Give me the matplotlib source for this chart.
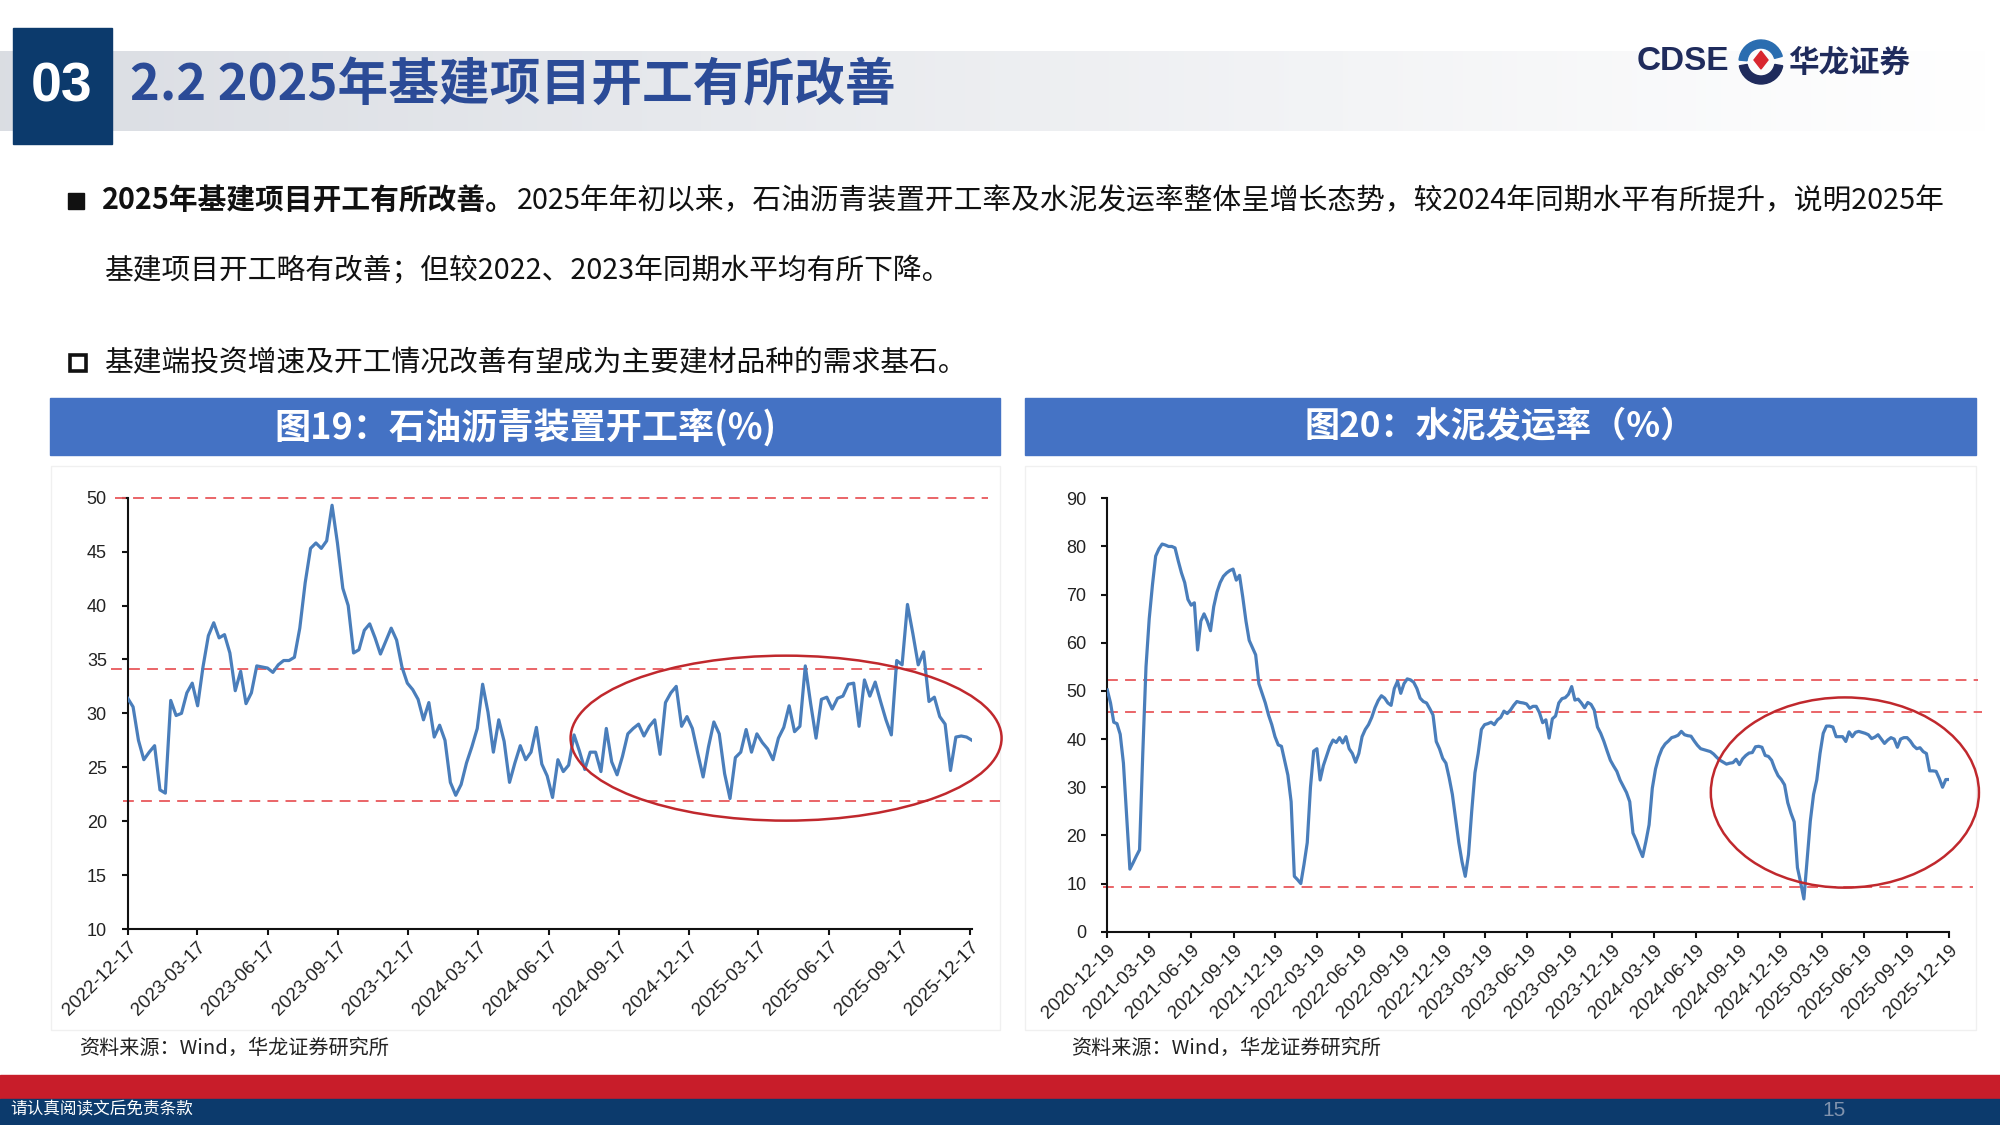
import matplotlib
matplotlib.use('Agg')
import matplotlib.pyplot as plt
import matplotlib.dates as mdates
from matplotlib.patches import Rectangle, Ellipse, Wedge, Polygon
import numpy as np
import pandas as pd

plt.rcParams['font.family'] = ['Noto Sans CJK SC', 'DejaVu Sans']

# ---------------- data ----------------
asphalt_start = '2022-12-17'
asphalt_rate = [
    31.4, 30.6, 27.5, 25.7, 26.4, 27.0, 22.9, 22.6, 31.2, 29.8,
    30.0, 31.9, 32.8, 30.7, 34.3, 37.2, 38.4, 37.0, 37.3, 35.6,
    32.1, 33.9, 30.9, 31.9, 34.4, 34.3, 34.2, 33.8, 34.5, 34.9,
    34.9, 35.2, 37.9, 42.1, 45.3, 45.8, 45.3, 46.0, 49.3, 45.8,
    41.6, 40.0, 35.6, 35.9, 37.7, 38.3, 37.0, 35.5, 36.7, 37.9,
    36.8, 34.3, 32.8, 32.2, 31.3, 29.4, 31.0, 27.8, 28.9, 27.5,
    23.6, 22.4, 23.4, 25.4, 26.9, 28.6, 32.7, 30.1, 26.4, 29.4,
    27.4, 23.6, 25.4, 27.0, 25.7, 26.4, 28.7, 25.3, 24.2, 22.2,
    25.7, 24.6, 25.2, 28.0, 26.5, 24.8, 26.4, 26.4, 24.6, 28.6,
    25.5, 24.3, 26.0, 28.1, 28.6, 29.0, 27.9, 28.8, 29.4, 26.2,
    31.0, 31.9, 32.5, 28.8, 29.7, 28.6, 26.3, 24.1, 26.9, 29.2,
    28.1, 24.4, 22.1, 25.9, 26.4, 28.5, 26.4, 28.1, 27.3, 26.7,
    25.7, 27.7, 28.7, 30.7, 28.3, 28.8, 34.4, 30.9, 27.7, 31.3,
    31.5, 30.4, 31.4, 31.6, 32.7, 32.8, 28.8, 33.1, 31.6, 32.9,
    31.1, 29.4, 28.0, 34.9, 34.5, 40.1, 37.4, 34.5, 35.7, 31.1,
    31.5, 29.7, 29.0, 24.7, 27.8, 27.9, 27.8, 27.5,
]
asphalt_ticks = ['2022-12-17', '2023-03-17', '2023-06-17', '2023-09-17',
                 '2023-12-17', '2024-03-17', '2024-06-17', '2024-09-17',
                 '2024-12-17', '2025-03-17', '2025-06-17', '2025-09-17',
                 '2025-12-17']
asphalt_refs = [50.0, 34.1, 21.9]

cement_start = '2020-12-19'
cement_rate = [
    50.2, 47.5, 43.5, 43.2, 41.0, 35.0, 24.0, 13.0, 14.3, 15.7,
    17.0, 37.0, 55.0, 65.0, 72.0, 78.0, 79.5, 80.5, 80.3, 80.0,
    80.0, 79.7, 77.0, 74.5, 72.5, 69.0, 67.8, 68.3, 58.5, 64.5,
    66.0, 64.5, 62.5, 67.5, 70.5, 72.5, 73.8, 74.5, 75.0, 75.3,
    73.0, 74.0, 69.5, 64.5, 60.5, 59.0, 57.5, 51.5, 49.5, 47.5,
    45.0, 43.0, 40.5, 38.8, 38.5, 35.5, 32.5, 27.0, 11.5, 10.8,
    10.0, 14.0, 18.5, 30.0, 37.5, 38.0, 31.5, 34.5, 36.5, 38.5,
    39.8, 39.3, 40.3, 39.2, 40.5, 38.0, 37.0, 35.2, 37.0, 40.5,
    42.0, 43.0, 44.5, 46.5, 48.0, 49.0, 48.5, 47.5, 47.0, 50.5,
    52.0, 49.5, 51.5, 52.5, 52.3, 51.8, 50.5, 48.5, 47.8, 47.5,
    46.3, 45.0, 39.5, 38.0, 36.0, 35.0, 32.0, 28.5, 23.5, 18.5,
    14.5, 11.5, 16.0, 25.0, 33.0, 37.0, 42.0, 43.0, 43.2, 43.5,
    43.0, 44.0, 44.5, 45.8, 45.3, 46.0, 47.0, 47.8, 47.6, 47.5,
    47.3, 46.4, 46.8, 46.8, 45.5, 43.4, 44.0, 40.2, 44.2, 44.8,
    47.5, 48.4, 48.6, 49.3, 50.9, 48.1, 48.3, 47.5, 46.5, 47.6,
    47.2, 46.0, 42.5, 41.2, 39.5, 37.5, 35.6, 34.4, 33.3, 31.5,
    30.2, 28.9, 27.0, 20.5, 19.0, 17.2, 15.6, 18.7, 22.2, 29.8,
    33.8, 36.3, 38.0, 39.0, 39.6, 40.3, 40.5, 40.8, 41.6, 40.9,
    40.7, 40.6, 39.6, 38.7, 38.0, 37.8, 37.6, 37.4, 36.9, 36.2,
    35.6, 35.2, 34.8, 35.0, 35.1, 35.8, 34.7, 35.9, 36.6, 37.1,
    37.2, 38.4, 38.5, 38.3, 36.6, 36.4, 35.6, 33.8, 32.4, 31.6,
    30.5, 26.8, 24.6, 22.8, 13.3, 10.2, 6.8, 15.0, 23.0, 28.5,
    31.5, 37.0, 41.2, 42.7, 42.7, 42.5, 40.5, 40.5, 40.5, 39.5,
    41.5, 40.5, 41.4, 41.6, 41.4, 41.2, 40.9, 40.1, 40.4, 40.9,
    40.0, 39.1, 39.8, 40.3, 40.0, 38.3, 40.0, 40.3, 40.3, 39.6,
    38.6, 38.0, 38.2, 37.4, 37.0, 33.4, 33.4, 33.3, 31.8, 30.0,
    31.6, 31.6,
]
cement_ticks = ['2020-12-19', '2021-03-19', '2021-06-19', '2021-09-19',
                '2021-12-19', '2022-03-19', '2022-06-19', '2022-09-19',
                '2022-12-19', '2023-03-19', '2023-06-19', '2023-09-19',
                '2023-12-19', '2024-03-19', '2024-06-19', '2024-09-19',
                '2024-12-19', '2025-03-19', '2025-06-19', '2025-09-19',
                '2025-12-19']
cement_refs = [52.3, 45.6, 9.3]

title_text = '2.2 2025年基建项目开工有所改善'
section_no = '03'
bullet1_bold = '2025年基建项目开工有所改善。'
bullet1_rest = '2025年年初以来，石油沥青装置开工率及水泥发运率整体呈增长态势，较2024年同期水平有所提升，说明2025年'
bullet1_line2 = '基建项目开工略有改善；但较2022、2023年同期水平均有所下降。'
bullet2 = '基建端投资增速及开工情况改善有望成为主要建材品种的需求基石。'
chart1_title = '图19：石油沥青装置开工率(%)'
chart2_title = '图20：水泥发运率（%）'
source_text = '资料来源：Wind，华龙证券研究所'
footer_text = '请认真阅读文后免责条款'
page_no = '15'

# ---------------- figure ----------------
W, H = 2000, 1125
fig = plt.figure(figsize=(20, 11.25), dpi=100)
fig.patch.set_facecolor('white')

bg = fig.add_axes([0, 0, 1, 1], zorder=0)
bg.set_xlim(0, W)
bg.set_ylim(H, 0)
bg.axis('off')

NAVY = '#0c3a6c'
RED = '#c81d2a'
TITLE_BLUE = '#2b4b97'
BAR_BLUE = '#4472c4'
LINE_BLUE = '#4a7ebb'
DASH_RED = '#e8585c'
ELL_RED = '#c0282d'
BODY = 20.7

# title gradient band
grad = np.linspace(0, 1, 400)
c0 = np.array([0.855, 0.867, 0.890])
c1 = np.array([1.0, 1.0, 1.0])
img = (c0[None, :] * (1 - grad[:, None]) + c1[None, :] * grad[:, None])[None, :, :]
bg.imshow(img, extent=[0, 1990, 131, 51], aspect='auto', zorder=1)
bg.add_patch(Rectangle((13, 28), 99, 116, color=NAVY, zorder=2))
bg.text(62, 88, section_no, color='white', fontsize=40, fontweight='bold',
        family=['Liberation Sans', 'DejaVu Sans'], ha='center', va='center', zorder=3)
bg.text(130, 86, title_text, color=TITLE_BLUE, fontsize=36.5, fontweight='bold',
        ha='left', va='center', zorder=3)

# logo
bg.text(1637, 62, 'CDSE', color='#1f2b5c', fontsize=24, fontweight='bold',
        family=['Liberation Sans', 'DejaVu Sans'], ha='left', va='center', zorder=3)
bg.add_patch(Wedge((1761, 62), 22, 185, 345, width=8, color='#2a6db0', zorder=3))
bg.add_patch(Wedge((1761, 62), 22, 10, 170, width=8, color='#1f2b5c', zorder=3))
bg.add_patch(Polygon([[1761, 51], [1768, 60], [1761, 69], [1754, 60]], closed=True,
                     color='#d8262e', zorder=4))
bg.text(1788, 63, '华龙证券', color='#1f2b5c', fontsize=22, fontweight='bold',
        ha='left', va='center', zorder=3)

# bullets
bg.add_patch(Rectangle((68, 193), 16, 16, color='#111111', zorder=2))
t1 = bg.text(102, 201, bullet1_bold, fontsize=BODY, fontweight='bold', color='#111111',
             ha='left', va='center', zorder=3)
fig.canvas.draw()
bb = t1.get_window_extent(renderer=fig.canvas.get_renderer())
bg.text(bb.x1 + 2, 201, bullet1_rest, fontsize=BODY, color='#111111',
        ha='left', va='center', zorder=3)
bg.text(105, 272, bullet1_line2, fontsize=BODY, color='#111111',
        ha='left', va='center', zorder=3)
bg.add_patch(Rectangle((70, 355), 16, 16, facecolor='white', edgecolor='#111111',
                       linewidth=2.6, zorder=2))
bg.text(105, 363, bullet2, fontsize=BODY, color='#111111',
        ha='left', va='center', zorder=3)

# chart header bars
bg.add_patch(Rectangle((50, 398), 950, 57, color=BAR_BLUE, zorder=2))
bg.add_patch(Rectangle((1025, 398), 951, 57, color=BAR_BLUE, zorder=2))
bg.text(525, 427, chart1_title, color='white', fontsize=26, fontweight='bold',
        ha='center', va='center', zorder=3)
bg.text(1500, 427, chart2_title, color='white', fontsize=25.3, fontweight='bold',
        ha='center', va='center', zorder=3)

# faint panel frames
bg.add_patch(Rectangle((51, 466), 949, 564, facecolor='none', edgecolor='#f0f0f0',
                       linewidth=1, zorder=1))
bg.add_patch(Rectangle((1025, 466), 951, 564, facecolor='none', edgecolor='#f0f0f0',
                       linewidth=1, zorder=1))

# sources
bg.text(79, 1048, source_text, fontsize=14.5, color='#222222', ha='left', va='center', zorder=3)
bg.text(1071, 1048, source_text, fontsize=14.5, color='#222222', ha='left', va='center', zorder=3)

# footer
bg.add_patch(Rectangle((0, 1075), W, 24, color=RED, zorder=2))
bg.add_patch(Rectangle((0, 1099), W, 26, color=NAVY, zorder=2))
bg.text(10, 1109, footer_text, fontsize=12, color='white', ha='left', va='center', zorder=3)
bg.text(1834, 1110, page_no, fontsize=15, color='#8193ad',
        family=['Liberation Sans', 'DejaVu Sans'], ha='center', va='center', zorder=3)

TICKFONT = ['Liberation Sans', 'DejaVu Sans']


def style_axes(ax):
    for s in ['top', 'right']:
        ax.spines[s].set_visible(False)
    for s in ['left', 'bottom']:
        ax.spines[s].set_linewidth(1.5)
        ax.spines[s].set_color('#111111')
    ax.tick_params(axis='both', direction='out', length=4, width=1.5, color='#111111')
    ax.tick_params(axis='y', pad=11, labelsize=13, labelcolor='#222222')
    ax.tick_params(axis='x', pad=3, labelsize=13.5, labelcolor='#222222')
    for lab in ax.get_yticklabels() + ax.get_xticklabels():
        lab.set_family(TICKFONT)
    for lab in ax.get_xticklabels():
        lab.set_rotation(45)
        lab.set_ha('right')
        lab.set_va('top')
        lab.set_rotation_mode('anchor')
    ax.set_facecolor('none')


# ---------------- left chart ----------------
a_dates = pd.date_range(asphalt_start, periods=len(asphalt_rate), freq='7D')
ax1 = fig.add_axes([127.7 / W, 1 - 929 / H, 844.3 / W, 431.3 / H], zorder=2)
ax1.plot(a_dates, asphalt_rate, color=LINE_BLUE, linewidth=2.3, zorder=3)
ax1.set_xlim(a_dates[0], a_dates[-1])
ax1.set_ylim(10, 50)
ax1.set_yticks(np.arange(10, 51, 5))
tk = pd.to_datetime(asphalt_ticks)
ax1.set_xticks(tk)
ax1.set_xticklabels(asphalt_ticks)
ref_span1 = [(-0.015, 1.019), (-0.02, 1.012), (-0.005, 1.033)]
for v, (x0, x1) in zip(asphalt_refs, ref_span1):
    ax1.axhline(v, xmin=x0, xmax=x1, color=DASH_RED, linewidth=1.3,
                linestyle=(0, (6, 4)), clip_on=False, zorder=2)
style_axes(ax1)
a0 = mdates.date2num(a_dates[0])
ax1.add_patch(Ellipse((a0 + 857, 27.7), 561, 15.3, facecolor='none',
                      edgecolor=ELL_RED, linewidth=1.8, clip_on=False, zorder=4))

# ---------------- right chart ----------------
c_dates = pd.date_range(cement_start, periods=len(cement_rate), freq='7D')
ax2 = fig.add_axes([1107.3 / W, 1 - 931.7 / H, 841.7 / W, 433.4 / H], zorder=2)
ax2.plot(c_dates, cement_rate, color=LINE_BLUE, linewidth=2.3, zorder=3)
ax2.set_xlim(c_dates[0], c_dates[-1])
ax2.set_ylim(0, 90)
ax2.set_yticks(np.arange(0, 91, 10))
tk2 = pd.to_datetime(cement_ticks)
ax2.set_xticks(tk2)
ax2.set_xticklabels(cement_ticks)
ref_span2 = [(0.0, 1.0345), (0.0, 1.039), (-0.005, 1.028)]
for v, (x0, x1) in zip(cement_refs, ref_span2):
    ax2.axhline(v, xmin=x0, xmax=x1, color=DASH_RED, linewidth=1.3,
                linestyle=(0, (6, 4)), clip_on=False, zorder=2)
style_axes(ax2)
c0d = mdates.date2num(c_dates[0])
ax2.add_patch(Ellipse((c0d + 1601, 28.9), 582, 39.5, facecolor='none',
                      edgecolor=ELL_RED, linewidth=1.8, clip_on=False, zorder=4))

fig.savefig('out.png', dpi=100, facecolor='white')
